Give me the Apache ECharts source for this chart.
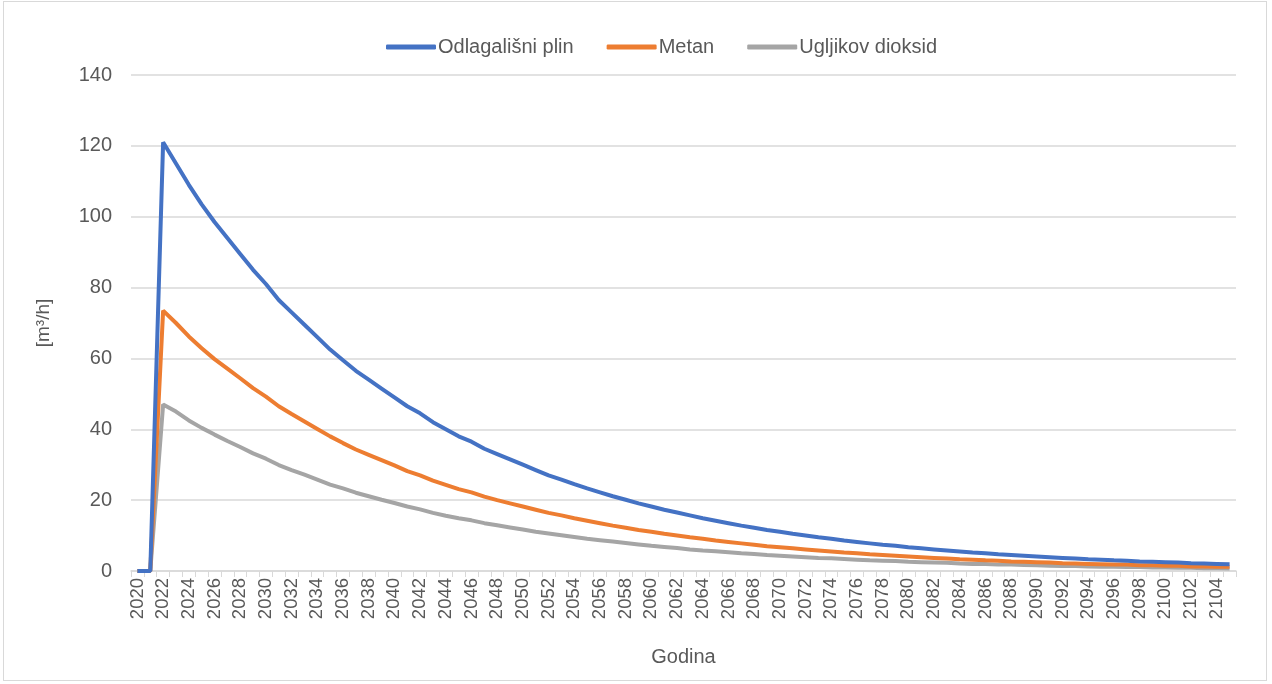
<!DOCTYPE html>
<html>
<head>
<meta charset="utf-8">
<script src="https://cdn.jsdelivr.net/npm/echarts@6/dist/echarts.min.js"></script>
<style>
html,body{margin:0;padding:0;background:#fff;}
#frame{position:absolute;left:3px;top:1px;width:1264px;height:680px;border:1px solid #d9d9d9;box-sizing:border-box;}
#chart{position:absolute;left:0;top:0;width:1272px;height:684px;}
</style>
</head>
<body>
<div id="frame"></div>
<div id="chart"></div>
<script>
const years = [];
for (let y = 2020; y <= 2105; y++) years.push(String(y));

const landfillGas = [0,0,121,115,109,103.5,98.5,94,89.5,85,81,76.5,73,69.5,66,62.5,59.5,56.5,54,51.5,49,46.5,44.5,42,40,38,36.5,34.5,33,31.5,30,28.5,27,25.8,24.5,23.3,22.2,21.1,20.1,19.1,18.2,17.3,16.5,15.7,14.9,14.2,13.5,12.8,12.2,11.6,11.1,10.5,10,9.5,9.1,8.6,8.2,7.8,7.4,7.1,6.7,6.4,6.1,5.8,5.5,5.2,5.0,4.7,4.5,4.3,4.1,3.9,3.7,3.5,3.3,3.2,3.0,2.9,2.7,2.6,2.5,2.4,2.2,2.1,2.0,1.9];

const methane = [0,0,73.5,70,66.2,62.9,59.8,57.1,54.4,51.6,49.2,46.5,44.3,42.2,40.1,38,36.1,34.3,32.8,31.3,29.8,28.2,27,25.5,24.3,23.1,22.2,21,20,19.1,18.2,17.3,16.4,15.7,14.9,14.2,13.5,12.8,12.2,11.6,11.1,10.5,10,9.5,9.1,8.6,8.2,7.8,7.4,7.0,6.7,6.4,6.1,5.8,5.5,5.2,5.0,4.7,4.5,4.3,4.1,3.9,3.7,3.5,3.3,3.2,3.0,2.9,2.7,2.6,2.5,2.4,2.2,2.1,2.0,1.9,1.8,1.8,1.6,1.6,1.5,1.5,1.3,1.3,1.2,1.2];

const carbonDioxide = [0,0,47,45,42.5,40.4,38.5,36.7,35,33.2,31.7,29.9,28.5,27.2,25.8,24.4,23.3,22.1,21.1,20.1,19.2,18.2,17.4,16.4,15.6,14.9,14.3,13.5,12.9,12.3,11.7,11.1,10.6,10.1,9.6,9.1,8.7,8.3,7.9,7.5,7.1,6.8,6.5,6.1,5.8,5.6,5.3,5.0,4.8,4.5,4.3,4.1,3.9,3.7,3.6,3.4,3.2,3.0,2.9,2.8,2.6,2.5,2.4,2.3,2.1,2.0,2.0,1.8,1.8,1.7,1.6,1.5,1.4,1.4,1.3,1.2,1.2,1.1,1.1,1.0,1.0,0.9,0.9,0.8,0.8,0.7];

const seriesNames = ['Odlagališni plin', 'Metan', 'Ugljikov dioksid'];
const seriesColors = ['#4472C4', '#ED7D31', '#A5A5A5'];
const seriesData = [landfillGas, methane, carbonDioxide];

const chart = echarts.init(document.getElementById('chart'));
const font = '"Liberation Sans", Arial, sans-serif';
chart.setOption({
  animation: false,
  textStyle: { fontFamily: font },
  legend: {
    top: 32,
    left: 381,
    itemWidth: 50,
    itemHeight: 5,
    itemGap: 33,
    icon: 'roundRect',
    textStyle: { fontSize: 20, color: '#595959', fontFamily: font, padding: [0,0,0,-3] },
    data: seriesNames
  },
  grid: { left: 131, right: 36, top: 75, bottom: 113, containLabel: false },
  xAxis: {
    type: 'category',
    data: years,
    boundaryGap: true,
    name: 'Godina',
    nameLocation: 'middle',
    nameGap: 76,
    nameTextStyle: { fontSize: 20, color: '#595959', fontFamily: font },
    axisLine: { lineStyle: { color: '#d9d9d9', width: 1.5 } },
    axisTick: { show: true, interval: 0, length: 6, lineStyle: { color: '#d9d9d9' } },
    axisLabel: { interval: 1, rotate: 90, fontSize: 18.5, color: '#595959', fontFamily: font, margin: 7 },
    splitLine: { show: false }
  },
  yAxis: {
    type: 'value',
    min: 0, max: 140, interval: 20,
    name: '[m³/h]',
    nameLocation: 'middle',
    nameGap: 78,
    nameRotate: 90,
    nameTextStyle: { fontSize: 19, color: '#595959', fontFamily: font },
    axisLine: { show: false },
    axisTick: { show: false },
    axisLabel: { fontSize: 20, color: '#595959', fontFamily: font, margin: 19 },
    splitLine: { lineStyle: { color: '#d9d9d9', width: 1.5 } }
  },
  series: seriesNames.map((n, i) => ({
    name: n,
    type: 'line',
    data: seriesData[i],
    showSymbol: false,
    symbol: 'none',
    color: seriesColors[i],
    lineStyle: { width: 4, color: seriesColors[i] },
    z: 10 - i
  }))
});
</script>
</body>
</html>
